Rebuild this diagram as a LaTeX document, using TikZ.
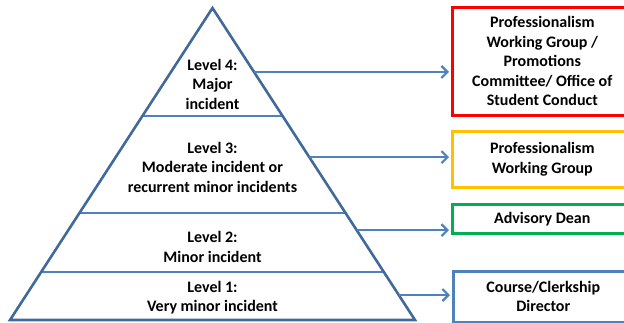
\documentclass[tikz,border=0pt]{standalone}
\usepackage{fontspec}
\setmainfont{Carlito}
\usetikzlibrary{arrows.meta,calc}

\begin{document}
\begin{tikzpicture}
[x=1pt,y=-1pt,
  levelText/.style={font=\bfseries\fontsize{16}{19.5}\selectfont,align=center,inner sep=0pt},%
  boxDecorate/.style={draw,line width=2.6pt,anchor=north west,minimum width=180pt,
    font=\bfseries\fontsize{16}{19.5}\selectfont,align=center,inner sep=0pt},%
  edgeDecorate/.style={draw=pyrEdge,line width=2.6pt,line join=miter},%
  tierDecorate/.style={draw=tierBlue,line width=2.4pt},%
  arrowDecorate/.style={draw=tierBlue,line width=2.4pt,
    -{Straight Barb[length=6pt,width=12pt,line width=2.2pt]}}]
\definecolor{pyrEdge}{HTML}{41699A}
\definecolor{tierBlue}{HTML}{4F81BD}
\definecolor{boxRed}{HTML}{FF0000}
\definecolor{boxYellow}{HTML}{FFC000}
\definecolor{boxGreen}{HTML}{00B050}
\useasboundingbox (0,0) rectangle (624,322);
\clip (0,0) rectangle (624,322);
%% pyramid corners
\coordinate (top) at (212.5,8);
\coordinate (bl) at (10,320);
\coordinate (br) at (415,320);
%% tier lines
\foreach \t in {0.346,0.657,0.846}
{
  \draw[tierDecorate] ($(top)!\t!(bl)$) -- ($(top)!\t!(br)$);
}
\draw[edgeDecorate] (bl) -- (top) -- (br) -- cycle;
%% level labels
\node (lvlfour) at (212.5,84) [levelText] {Level 4:\\Major\\incident};
\node (lvlthree) at (212.5,167) [levelText] {Level 3:\\Moderate incident or\\recurrent minor incidents};
\node (lvltwo) at (212.5,247) [levelText] {Level 2:\\Minor incident};
\node (lvlone) at (212.5,297.5) [levelText] {Level 1:\\Very minor incident};
%% who handles it
\node (pwgfull) at (451,6) [boxDecorate,draw=boxRed,minimum height=108pt]
  {Professionalism\\Working Group /\\Promotions\\Committee/ Office of\\Student Conduct};
\node (pwg) at (451,130) [boxDecorate,draw=boxYellow,minimum height=56pt]
  {Professionalism\\Working Group};
\node (dean) at (451,203) [boxDecorate,draw=boxGreen,minimum height=29pt]
  {Advisory Dean};
\node (director) at (452,270) [boxDecorate,draw=tierBlue,minimum height=50.5pt]
  {Course/Clerkship\\Director};
%% arrows from the pyramid
\foreach \t/\boxname in {0.205/pwgfull,0.478/pwg,0.712/dean}
{
  \coordinate (from\boxname) at ($(top)!\t!(br)$);
  \draw[arrowDecorate] (from\boxname) -- ([xshift=-2pt]from\boxname -| \boxname.west);
}
\coordinate (fromdirector) at ($(top)!0.920!(br)$);
\draw[arrowDecorate,line width=1.5pt] (fromdirector) -- ([xshift=-2pt]fromdirector -| director.west);
\end{tikzpicture}
\end{document}
